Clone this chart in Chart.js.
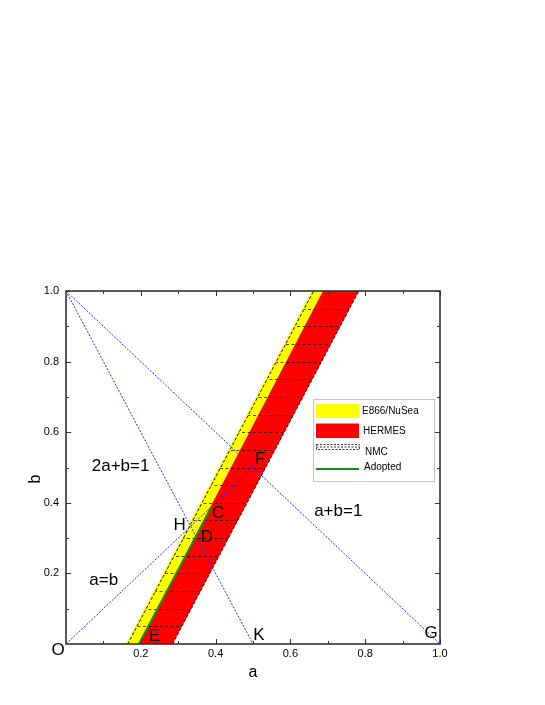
<!DOCTYPE html>
<html>
<head>
<meta charset="utf-8">
<script src="https://cdn.jsdelivr.net/npm/chart.js@4.4.1/dist/chart.umd.min.js"></script>
<style>
  html, body { margin: 0; padding: 0; background: #fff; }
  #wrap { width: 545px; height: 705px; }
</style>
</head>
<body>
<div id="wrap"><canvas id="chart"></canvas></div>
<script>
// every band is bounded by two straight edges, given as a at b=0 and at b=1
const bandB = [0, 1]
const e866Left = [0.16, 0.657]
const e866Right = [0.195, 0.687]
const hermesLeft = [0.195, 0.687]
const hermesRight = [0.285, 0.783]
const nmcLeft = [0.165, 0.662]
const nmcRight = [0.285, 0.783]
const nmcHatchB = [0.05, 0.1, 0.15, 0.2, 0.25, 0.3, 0.35, 0.4, 0.45, 0.5,
  0.55, 0.6, 0.65, 0.7, 0.75, 0.8, 0.85, 0.9, 0.95]

// adopted segment E -> C
const adoptedA = [0.195, 0.39]
const adoptedB = [0, 0.39]

// constraint lines
const line2abA = [0, 0.5]
const line2abB = [1, 0]
const lineApbA = [0, 1]
const lineApbB = [1, 0]
const lineAeqbA = [0, 0.5]
const lineAeqbB = [0, 0.5]

const majorTicks = [0.2, 0.4, 0.6, 0.8, 1.0]
const minorTicks = [0.1, 0.3, 0.5, 0.7, 0.9]

// text placed in the plot, centre in (a, b)
const noteText = ['2a+b=1', 'a=b', 'a+b=1', 'H', 'C', 'D', 'F', 'E', 'K', 'G', 'O']
const noteA = [0.146, 0.101, 0.728, 0.304, 0.407, 0.377, 0.519, 0.237, 0.516, 0.976, -0.021]
const noteB = [0.502, 0.181, 0.375, 0.335, 0.369, 0.303, 0.524, 0.023, 0.0255, 0.030, -0.018]

const legendLabels = ['E866/NuSea', 'HERMES', 'NMC', 'Adopted']

const FONT = '"Liberation Sans", Arial, Helvetica, sans-serif'
const YELLOW = '#ffff00'
const RED = '#ff0000'
const GREEN = '#1a8a1a'
const BLUE = '#2626ff'

const pts = (as, bs) => as.map((a, i) => ({x: a, y: bs[i]}))
const band = (left, right) => [...pts(left, bandB), ...pts(right, bandB).reverse()]

function bandSet(label, left, right, color, order) {
  return {
    label,
    data: band(left, right),
    showLine: true,
    fill: 'shape',
    backgroundColor: color,
    borderColor: 'transparent',
    borderWidth: 0,
    pointRadius: 0,
    order,
  }
}

function lineSet(label, as, bs, color, width, dash, order) {
  return {
    label,
    data: pts(as, bs),
    showLine: true,
    fill: false,
    borderColor: color,
    borderWidth: width,
    borderDash: dash,
    pointRadius: 0,
    order,
  }
}

const hatchPlugin = {
  id: 'hatch',
  afterDatasetDraw(chart, args) {
    if (chart.data.datasets[args.index].label !== 'NMC') return
    const {ctx, chartArea, scales: {x, y}} = chart
    const poly = band(nmcLeft, nmcRight)
    ctx.save()
    ctx.beginPath()
    poly.forEach((p, i) => {
      const px = x.getPixelForValue(p.x)
      const py = y.getPixelForValue(p.y)
      i ? ctx.lineTo(px, py) : ctx.moveTo(px, py)
    })
    ctx.closePath()
    ctx.clip()
    ctx.strokeStyle = '#000'
    ctx.lineWidth = 0.7
    ctx.setLineDash([3, 2.5])
    nmcHatchB.forEach(b => {
      const py = Math.round(y.getPixelForValue(b)) + 0.5
      ctx.beginPath()
      ctx.moveTo(chartArea.left, py)
      ctx.lineTo(chartArea.right, py)
      ctx.stroke()
    })
    ctx.restore()
  }
}

const framePlugin = {
  id: 'frame',
  afterDatasetsDraw(chart) {
    const {ctx, chartArea: {left, right, top, bottom}, scales: {x, y}} = chart
    ctx.save()
    ctx.strokeStyle = '#333'
    ctx.lineWidth = 1.6
    ctx.strokeRect(left, top, right - left, bottom - top)
    ctx.lineWidth = 1
    const tick = (vals, len) => {
      vals.forEach(v => {
        const px = Math.round(x.getPixelForValue(v)) + 0.5
        const py = Math.round(y.getPixelForValue(v)) + 0.5
        ctx.beginPath()
        ctx.moveTo(px, bottom); ctx.lineTo(px, bottom - len)
        ctx.moveTo(px, top); ctx.lineTo(px, top + len)
        ctx.moveTo(left, py); ctx.lineTo(left + len, py)
        ctx.moveTo(right, py); ctx.lineTo(right - len, py)
        ctx.stroke()
      })
    }
    tick(majorTicks, 5)
    tick(minorTicks, 3)

    // text notes
    ctx.fillStyle = '#000'
    ctx.font = '17px ' + FONT
    ctx.textAlign = 'center'
    ctx.textBaseline = 'middle'
    noteText.forEach((t, i) => {
      ctx.fillText(t, x.getPixelForValue(noteA[i]), y.getPixelForValue(noteB[i]))
    })

    // axis titles
    ctx.font = '16px ' + FONT
    ctx.textBaseline = 'alphabetic'
    ctx.fillText('a', (left + right) / 2, 677)
    ctx.save()
    ctx.translate(40, 479)
    ctx.rotate(-Math.PI / 2)
    ctx.fillText('b', 0, 0)
    ctx.restore()

    // legend
    ctx.lineWidth = 1
    ctx.strokeStyle = '#888'
    ctx.setLineDash([1, 1])
    ctx.strokeRect(313.5, 399.5, 121, 82)
    ctx.setLineDash([])
    ctx.fillStyle = YELLOW
    ctx.fillRect(316, 404, 43, 14)
    ctx.fillStyle = RED
    ctx.fillRect(316, 423.5, 43, 14.5)
    ctx.strokeStyle = '#333'
    ctx.setLineDash([2, 1.5])
    ctx.strokeRect(316.5, 444.5, 43, 5)
    ctx.beginPath()
    ctx.moveTo(316.5, 447); ctx.lineTo(359.5, 447)
    ctx.stroke()
    ctx.setLineDash([])
    ctx.strokeStyle = GREEN
    ctx.lineWidth = 2
    ctx.beginPath()
    ctx.moveTo(316, 469); ctx.lineTo(359, 469)
    ctx.stroke()
    ctx.fillStyle = '#000'
    ctx.font = '10px ' + FONT
    ctx.textAlign = 'left'
    ctx.textBaseline = 'middle'
    const ly = [411.5, 431.5, 452.5, 467]
    const lx = [362, 363, 365, 364]
    legendLabels.forEach((t, i) => ctx.fillText(t, lx[i], ly[i]))
    ctx.restore()
  }
}

const tickFont = {family: FONT, size: 11}

new Chart(document.getElementById('chart'), {
  type: 'scatter',
  data: {
    datasets: [
      bandSet('E866/NuSea', e866Left, e866Right, YELLOW, 9),
      bandSet('HERMES', hermesLeft, hermesRight, RED, 8),
      lineSet('NMC', nmcLeft, bandB, '#000', 0.9, [3, 2], 7),
      lineSet('NMC right', nmcRight, bandB, '#000', 0.9, [3, 2], 7),
      lineSet('2a+b=1', line2abA, line2abB, BLUE, 1, [2, 1.5], 5),
      lineSet('a+b=1', lineApbA, lineApbB, BLUE, 1, [2, 1.5], 5),
      lineSet('a=b', lineAeqbA, lineAeqbB, BLUE, 1, [2, 1.5], 5),
      lineSet('Adopted', adoptedA, adoptedB, GREEN, 2, [], 2),
    ]
  },
  options: {
    responsive: true,
    maintainAspectRatio: false,
    animation: false,
    layout: {padding: {left: 0, top: 291, right: 105, bottom: 0}},
    plugins: {
      legend: {display: false},
      tooltip: {enabled: false},
    },
    scales: {
      x: {
        type: 'linear',
        min: 0,
        max: 1,
        afterBuildTicks: s => { s.ticks = majorTicks.map(v => ({value: v})) },
        afterFit: s => { s.height = 61 },
        grid: {display: false, drawTicks: false},
        border: {display: false},
        ticks: {font: tickFont, color: '#000', padding: 3, maxRotation: 0,
          callback: v => v.toFixed(1)},
      },
      y: {
        type: 'linear',
        min: 0,
        max: 1,
        afterBuildTicks: s => { s.ticks = majorTicks.map(v => ({value: v})) },
        afterFit: s => { s.width = 66 },
        grid: {display: false, drawTicks: false},
        border: {display: false},
        ticks: {font: tickFont, color: '#000', padding: 7,
          callback: v => v.toFixed(1)},
      },
    },
  },
  plugins: [hatchPlugin, framePlugin],
})
</script>
</body>
</html>
